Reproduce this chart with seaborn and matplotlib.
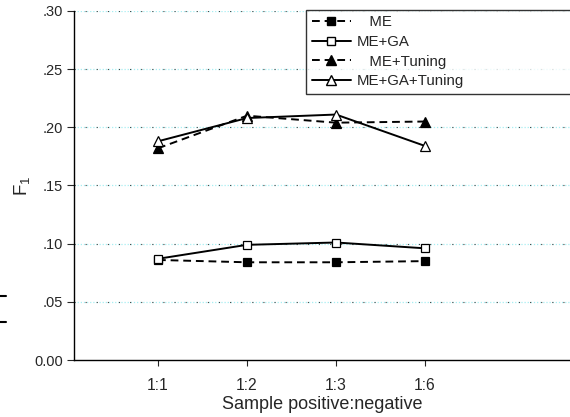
import numpy as np
import pandas as pd
import matplotlib
matplotlib.use('Agg')
import matplotlib.pyplot as plt
import seaborn as sns
from matplotlib.lines import Line2D
from matplotlib.ticker import FuncFormatter

ratios = ['1:1', '1:2', '1:3', '1:6']
me = [0.086, 0.084, 0.084, 0.085]
me_ga = [0.087, 0.099, 0.101, 0.096]
me_tuning = [0.182, 0.210, 0.204, 0.205]
me_ga_tuning = [0.188, 0.208, 0.211, 0.184]
y_ticks = [0.00, 0.05, 0.10, 0.15, 0.20, 0.25, 0.30]


def fmt_tick(v, pos):
    if abs(v) < 1e-9:
        return '0.00'
    return '.%02d' % round(v * 100)


def main():
    sns.set_style('ticks')
    plt.rcParams['font.family'] = ['Liberation Sans', 'DejaVu Sans']
    plt.rcParams['mathtext.default'] = 'regular'

    fig = plt.figure(figsize=(5.7, 4.17), dpi=100)
    ax = fig.add_axes([74 / 570, 1 - 360 / 417, 1 - 74 / 570, 349 / 417])

    xs = np.arange(1, len(ratios) + 1)

    # gridlines: cyan dots with sparse black dots on top
    for y in y_ticks[1:]:
        ax.axhline(y, color='#a6eef2', lw=0.9, ls=(0, (1, 1.5)), zorder=0)
        ax.axhline(y, color='#444444', lw=0.8, ls=(0, (1, 9)), zorder=0)

    series = [
        ('ME', me, (4, 2.5), 's', 'black'),
        ('ME+GA', me_ga, '', 's', 'white'),
        ('ME+Tuning', me_tuning, (4, 2.5), '^', 'black'),
        ('ME+GA+Tuning', me_ga_tuning, '', '^', 'white'),
    ]
    for name, vals, dash, mk, fc in series:
        df = pd.DataFrame({'x': xs, 'y': vals})
        sns.lineplot(ax=ax, data=df, x='x', y='y', color='black', lw=1.4,
                     dashes=dash, marker=mk, markersize=6.5 if mk == '^' else 5.5,
                     markerfacecolor=fc, markeredgecolor='black',
                     markeredgewidth=0.9, zorder=3)

    ax.set_xlim(1 - 84 / 89, 1 + 412 / 89)
    ax.set_ylim(0, 0.30)
    ax.set_xticks(xs)
    ax.set_xticklabels(ratios, fontsize=11.3)
    ax.set_yticks(y_ticks)
    ax.yaxis.set_major_formatter(FuncFormatter(fmt_tick))
    ax.tick_params(axis='y', labelsize=10.5, length=5, width=0.8, pad=3)
    ax.tick_params(axis='x', length=4, width=0.8, pad=9)
    ax.set_xlabel('Sample positive:negative', fontsize=13, labelpad=2)
    ax.set_ylabel('F$_1$', fontsize=13.5, labelpad=1.5)
    sns.despine(ax=ax)
    for s in ['left', 'bottom']:
        ax.spines[s].set_linewidth(1.0)
        ax.spines[s].set_color('black')

    handles = [
        Line2D([], [], color='black', lw=1.4, ls=(0, (4, 2.5)), marker='s',
               markersize=5.5, markerfacecolor='black', markeredgecolor='black'),
        Line2D([], [], color='black', lw=1.4, marker='s', markersize=5.5,
               markerfacecolor='white', markeredgecolor='black'),
        Line2D([], [], color='black', lw=1.4, ls=(0, (4, 2.5)), marker='^',
               markersize=6.5, markerfacecolor='black', markeredgecolor='black'),
        Line2D([], [], color='black', lw=1.4, marker='^', markersize=6.5,
               markerfacecolor='white', markeredgecolor='black'),
    ]
    labels = ['   ME', 'ME+GA', '   ME+Tuning', 'ME+GA+Tuning']
    leg = ax.legend(handles, labels, loc='upper left', numpoints=1,
                    bbox_to_anchor=(306 / 570, 1 - 10 / 417, 300 / 570, 0.001),
                    bbox_transform=fig.transFigure, mode='expand',
                    borderaxespad=0, fancybox=False, frameon=True,
                    fontsize=10.8, handlelength=2.6, handletextpad=0.4,
                    labelspacing=0.38, borderpad=0.38)
    leg.get_frame().set_edgecolor('black')
    leg.get_frame().set_linewidth(1.0)

    # stray marks at left edge of the original
    for yy in [296, 322]:
        fig.add_artist(Line2D([0, 6 / 570], [1 - yy / 417, 1 - yy / 417],
                              color='black', lw=1.5, transform=fig.transFigure))

    fig.savefig('out.png', dpi=100)


if __name__ == "__main__":
    main()
